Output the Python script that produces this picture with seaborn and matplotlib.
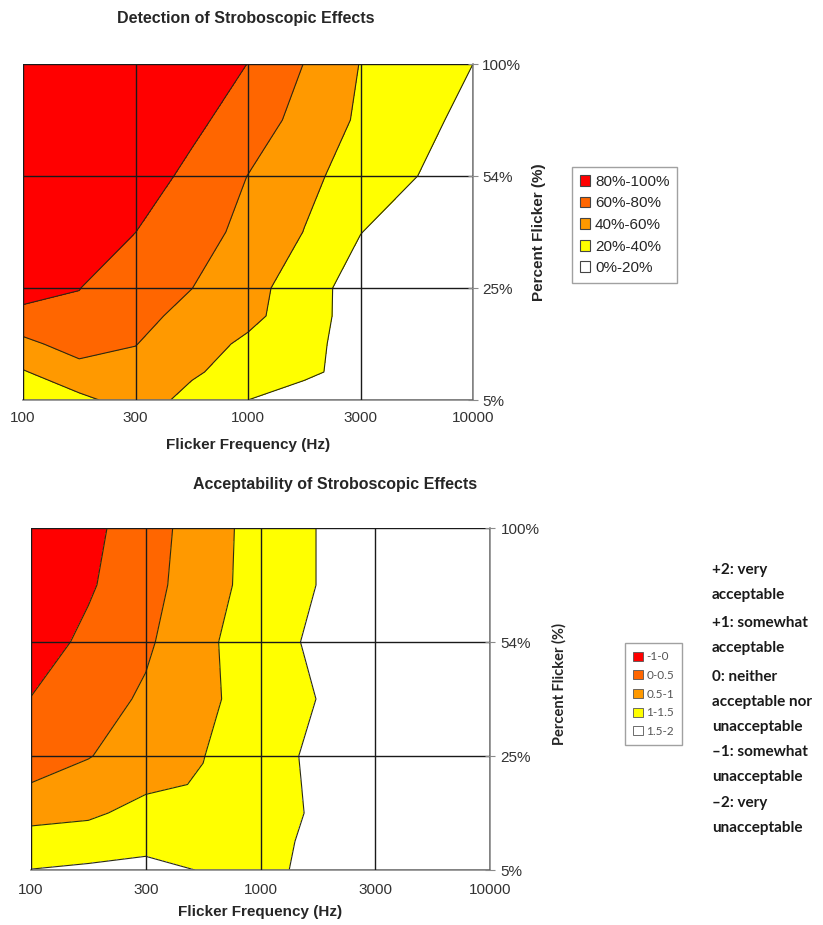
import numpy as np
import seaborn as sns
import matplotlib.pyplot as plt
from matplotlib.patches import Patch

# Excel-style category axes (evenly spaced categories)
freq_labels = ['100', '300', '1000', '3000', '10000']
flicker_labels = ['5%', '25%', '54%', '100%']

# sample grid in category units: 0 = 100 Hz ... 4 = 10000 Hz, 0 = 5% ... 3 = 100%
grid_freq = [0, 0.5, 1, 1.5, 2, 2.5, 3, 3.5, 4]
grid_flicker = [0, 0.25, 0.5, 0.75, 1, 1.5, 2, 2.5, 3]

# detection of stroboscopic effects (% of observers), one row per grid_flicker value
detection = [
    [22, 35.6, 48, 35.2, 20, 10, 5, 0, 0],
    [38.6, 52.9, 54, 42.1, 32.9, 24.3, 12, 3, 0],
    [55.3, 68, 60.5, 48.1, 36.5, 25.5, 12, 3, 0],
    [72.9, 77, 65.1, 54.9, 44.8, 29.8, 10, 3, 0],
    [90.4, 80.3, 70.1, 60.2, 46.8, 30.2, 10, 3, 0],
    [100, 92.2, 80.1, 68, 54.8, 39.6, 20.5, 8, 0],
    [100, 100, 90.5, 75.1, 59.7, 44.8, 31.9, 20.2, 8.1],
    [100, 100, 100, 85, 69.9, 53.7, 37, 25.7, 14.3],
    [100, 100, 100, 99, 79.6, 59.6, 39.4, 29.7, 20],
]
detect_levels = [0, 20, 40, 60, 80, 100]
detect_names = ['80%-100%', '60%-80%', '40%-60%', '20%-40%', '0%-20%']

# acceptability rating (-2 very unacceptable ... +2 very acceptable)
acceptability = [
    [1.51, 1.58, 1.62, 1.48, 1.4, 1.6, 1.8, 1.9, 2.0],
    [1.18, 1.23, 1.37, 1.29, 1.35, 1.6, 1.8, 1.9, 2.0],
    [0.85, 0.92, 1.15, 1.05, 1.31, 1.56, 1.8, 1.9, 2.0],
    [0.51, 0.67, 0.92, 1.03, 1.3, 1.58, 1.8, 1.9, 2.0],
    [0.34, 0.48, 0.73, 0.99, 1.3, 1.6, 1.8, 1.9, 2.0],
    [0.01, 0.28, 0.57, 0.9, 1.21, 1.51, 1.8, 1.9, 2.0],
    [-0.22, 0.1, 0.42, 0.9, 1.27, 1.6, 1.8, 1.9, 2.0],
    [-0.43, -0.056, 0.32, 0.79, 1.2, 1.51, 1.8, 1.9, 2.0],
    [-0.5, -0.13, 0.27, 0.76, 1.2, 1.51, 1.8, 1.9, 2.0],
]
accept_levels = [-1, 0, 0.5, 1, 1.5, 2]
accept_names = ['-1-0', '0-0.5', '0.5-1', '1-1.5', '1.5-2']

rating_notes = ['+2: very\nacceptable', '+1: somewhat\nacceptable',
                '0: neither\nacceptable nor\nunacceptable',
                '\u20131: somewhat\nunacceptable', '\u20132: very\nunacceptable']

# legend order: top band first
band_colors = ['#FF0000', '#FF6600', '#FF9900', '#FFFF00', '#FFFFFF']

sns.set_style('white')
plt.rcParams['font.family'] = ['Liberation Sans', 'DejaVu Sans']

fig = plt.figure(figsize=(8.23, 9.25), dpi=100)
W, H = 823, 925


def px_axes(l, t, r, b):
    return fig.add_axes([l / W, 1 - b / H, (r - l) / W, (b - t) / H])


def contour_panel(ax, z, levels, fills, xpad, ypad):
    ax.contourf(grid_freq, grid_flicker, z, levels=levels, colors=fills)
    ax.contour(grid_freq, grid_flicker, z, levels=levels[1:-1],
               colors='#2b2b10', linewidths=0.8)
    ax.set_xlim(0, 4)
    ax.set_ylim(0, 3)
    ax.set_xticks(range(len(freq_labels)))
    ax.set_xticklabels(freq_labels)
    ax.set_yticks(range(len(flicker_labels)))
    ax.set_yticklabels(flicker_labels)
    ax.yaxis.tick_right()
    ax.yaxis.set_label_position('right')
    ax.grid(True, color='#1a1a1a', linewidth=1.0)
    ax.set_axisbelow(False)
    for s in ['left', 'top']:
        ax.spines[s].set_visible(False)
    for s in ['right', 'bottom']:
        ax.spines[s].set_color('#8a8a8a')
        ax.spines[s].set_linewidth(1.2)
    ax.tick_params(axis='x', length=0, pad=xpad, labelsize=11, labelcolor='#333333')
    ax.tick_params(axis='y', direction='inout', length=7, color='#8a8a8a',
                   pad=ypad, labelsize=11, labelcolor='#333333')


# ---- top: detection ----
ax1 = px_axes(23, 64, 473, 400)
contour_panel(ax1, detection, detect_levels, band_colors[::-1], 8, 3)
ax1.set_xlabel('Flicker Frequency (Hz)', fontsize=11, fontweight='bold')
ax1.xaxis.set_label_coords(0.5, -0.113)
ax1.set_ylabel('Percent Flicker (%)', fontsize=11, fontweight='bold', rotation=90)
ax1.yaxis.set_label_coords(1.13, 0.5)
fig.text(246 / W, 1 - 18 / H, 'Detection of Stroboscopic Effects',
         ha='center', va='center', fontsize=11.5, fontweight='bold')

h1 = [Patch(facecolor=c, edgecolor='#444444', linewidth=0.8) for c in band_colors]
fig.legend(h1, detect_names, loc='upper left',
           bbox_to_anchor=(572 / W, 1 - 167 / H), bbox_transform=fig.transFigure,
           fontsize=11, frameon=True, fancybox=False, edgecolor='#8a8a8a',
           handlelength=0.7, handleheight=0.7, handletextpad=0.3,
           labelspacing=0.5, borderpad=0.5, borderaxespad=0)

# ---- bottom: acceptability ----
ax2 = px_axes(31, 528, 490, 870)
contour_panel(ax2, acceptability, accept_levels, band_colors, 9, 4)
ax2.set_xlabel('Flicker Frequency (Hz)', fontsize=11, fontweight='bold')
ax2.xaxis.set_label_coords(0.5, -0.103)
ax2.set_ylabel('Percent Flicker (%)', fontsize=10.5, fontweight='bold', rotation=90,
               family=['Lato', 'DejaVu Sans'])
ax2.yaxis.set_label_coords(1.135, 0.544)
fig.text(335 / W, 1 - 484 / H, 'Acceptability of Stroboscopic Effects',
         ha='center', va='center', fontsize=11.5, fontweight='bold')

h2 = [Patch(facecolor=c, edgecolor='#555555', linewidth=0.6) for c in band_colors]
fig.legend(h2, accept_names, loc='upper left',
           bbox_to_anchor=(625 / W, 1 - 643 / H), bbox_transform=fig.transFigure,
           labelcolor='#555555', frameon=True, fancybox=False,
           edgecolor='#8a8a8a', handlelength=0.8, handleheight=0.8,
           handletextpad=0.3, labelspacing=0.65, borderpad=0.7, borderaxespad=0,
           prop={'family': ['Lato', 'DejaVu Sans'], 'size': 8.5})

# explanatory rating scale, one block per rating
note_tops = [563, 616, 670, 745, 796]
for note, top in zip(rating_notes, note_tops):
    fig.text(712 / W, 1 - top / H, note, ha='left', va='top', fontsize=11,
             fontweight='bold', linespacing=1.98, family=['Lato', 'DejaVu Sans'],
             color='#1a1a1a')

fig.savefig('out.png', dpi=100)
